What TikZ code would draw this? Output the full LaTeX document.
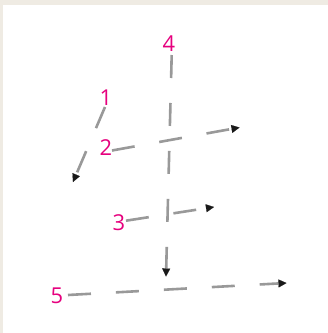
\documentclass[tikz,border=0pt]{standalone}
\usepackage{fontspec}
\setmainfont{Open Sans}
\usetikzlibrary{arrows.meta}
\definecolor{bgbeige}{HTML}{EFEBE3}
\definecolor{dashgray}{HTML}{999999}
\definecolor{labelpink}{HTML}{E6007E}
\tikzset{
  numlabel/.style={text=labelpink, font=\fontsize{22}{24}\selectfont, inner sep=0pt},
  dashline/.style={draw=dashgray, line width=2.6bp, dash pattern=on 23bp off 25bp,
    -{Triangle[length=8bp,width=8bp,color=black!90,line width=0.1pt]}}
}
\begin{document}
\begin{tikzpicture}[x=1bp,y=-1bp]
\useasboundingbox (0,0) rectangle (328,333);
\fill[bgbeige] (0,0) rectangle (328,333);
\fill[white] (3,5) rectangle (328,333);
% labels
\node[numlabel] (l4) at (169,43.5) {4};
\node[numlabel] (l1) at (106,97.5) {1};
\node[numlabel] (l2) at (106,147.5) {2};
\node[numlabel] (l3) at (119,222.5) {3};
\node[numlabel] (l5) at (57,295.5) {5};
% line ends
\coordinate (s4) at (171.7,55);
\coordinate (e4) at (166,276.5);
\coordinate (s1) at (105,107);
\coordinate (e1) at (73,182);
\coordinate (s2) at (112,150.5);
\coordinate (e2) at (239.5,127.5);
\coordinate (s3) at (126,220.7);
\coordinate (e3) at (214,207);
\coordinate (s5) at (68,295);
\coordinate (e5) at (286.5,283);
% lines
\draw[dashline] (s4) -- (e4);
\draw[dashline] (s1) -- (e1);
\draw[dashline] (s2) -- (e2);
\draw[dashline] (s3) -- (e3);
\draw[dashline] (s5) -- (e5);
\end{tikzpicture}
\end{document}
